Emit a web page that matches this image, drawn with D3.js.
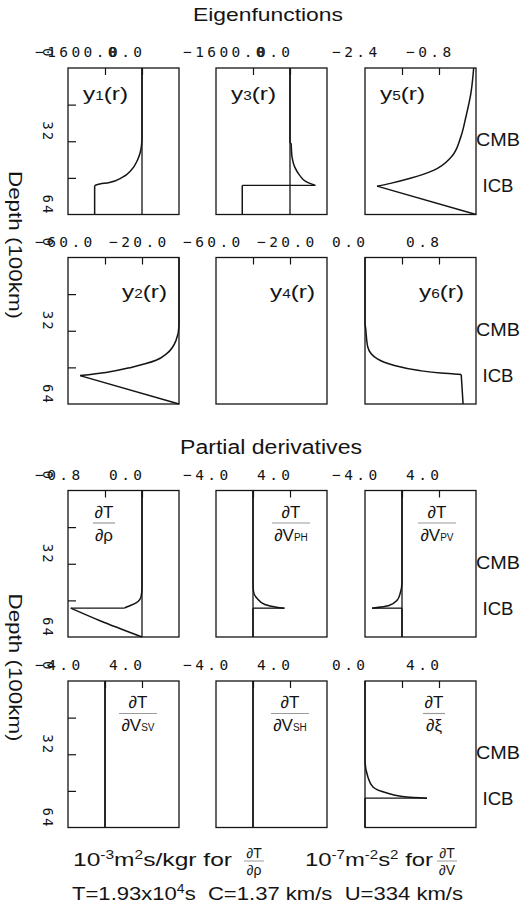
<!DOCTYPE html>
<html><head><meta charset="utf-8">
<script src="https://cdn.jsdelivr.net/npm/d3@7"></script>
<style>body{margin:0;background:#fff}svg{display:block}</style>
</head><body>
<svg id="c" width="524" height="918"></svg>
<script>
// ---------------- data ----------------
const depthDomain = [0, 64];
const depthTicks = [16, 32, 48];
const depthTickLabels = [0, 32, 64];
const boundaryNames = ["CMB", "ICB"];
const boundaryLabelDepths = [31.2, 51.3];

const eigenNames = ["1", "3", "5", "2", "4", "6"];
const eigenDomains = [[-1600, 800], [-1600, 800], [-2.4, 0], [-60, 0], [-60, 0], [0, 1.2]];
const partialSubs = ["ρ", "VPH", "VPV", "VSV", "VSH", "ξ"];
const partialDomains = [[-0.8, 0.4], [-4, 8], [-4, 8], [-4, 8], [-4, 8], [0, 6]];

// eigenfunctions (depth in 100 km, value)
const y1Depth = [0, 30, 34, 37, 40.3, 44.7, 47.8, 50.0, 50.9, 51.4, 51.4, 64];
const y1Value = [0, 0, -12, -40, -100, -235, -427, -704, -960, -1024, -1024, -1024];
const y3Depth = [0, 32.9, 32.9, 36, 39, 43.4, 46.9, 49.5, 51.3, 51.3, 64];
const y3Value = [0, 0, 25, 32, 45, 105, 210, 337, 547, -1032, -1032];
const y5Depth = [0, 11, 21.5, 30.2, 39, 44.7, 48.2, 50.4, 51.6, 51.6, 64];
const y5Value = [-0.05, -0.11, -0.22, -0.33, -0.54, -0.92, -1.42, -1.85, -2.14, -2.14, 0];
const y2Depth = [0, 29.6, 36.2, 41.9, 44.9, 47.9, 50.2, 51.6, 51.6, 64];
const y2Value = [0, 0, -1.6, -6.5, -12.4, -25.4, -39.5, -53.5, -53.5, 0];
const y4Depth = [];
const y4Value = [];
const y6Depth = [0, 28.9, 30.3, 39.1, 44.2, 47.1, 49.3, 50.5, 51.1, 51.1, 64];
const y6Value = [0, 0, 0.005, 0.03, 0.13, 0.31, 0.57, 0.82, 1.04, 1.04, 1.06];

// partial derivatives
const dRhoDepth = [0, 31.6, 42, 46.4, 49.1, 50.8, 51.4, 51.4, 56.8, 64];
const dRhoValue = [0, 0, 0, -0.01, -0.064, -0.16, -0.19, -0.77, -0.46, 0];
const dVphDepth = [0, 40, 44, 47.1, 49.8, 51, 51.4, 51.4, 64];
const dVphValue = [0, 0, 0.05, 0.43, 1.28, 2.55, 3.4, 0, 0];
const dVpvDepth = [0, 40, 45, 48, 50.2, 51.4, 51.4, 64];
const dVpvValue = [0, 0, -0.2, -0.54, -1.4, -3.24, 0, 0];
const dVsvDepth = [0, 64];
const dVsvValue = [0, 0];
const dVshDepth = [0, 64];
const dVshValue = [0, 0];
const dXiDepth = [0, 34.7, 42, 46.3, 48.9, 50.7, 51.2, 51.2, 64];
const dXiValue = [0, 0, 0.16, 0.43, 1.19, 2.27, 3.35, 0, 0];

const eigenSeries = [[y1Depth, y1Value], [y3Depth, y3Value], [y5Depth, y5Value],
                     [y2Depth, y2Value], [y4Depth, y4Value], [y6Depth, y6Value]];
const partialSeries = [[dRhoDepth, dRhoValue], [dVphDepth, dVphValue], [dVpvDepth, dVpvValue],
                       [dVsvDepth, dVsvValue], [dVshDepth, dVshValue], [dXiDepth, dXiValue]];

// ---------------- layout ----------------
const svg = d3.select("#c");
const colLeft = [68, 216, 365];
const panelW = 111;
const rowTop = [68, 257.5, 490.5, 681];
const panelH = 146.5;
const SANS = "'Liberation Sans', Arial, Helvetica, sans-serif";
const MONO = "'DejaVu Sans Mono', 'Liberation Mono', monospace";
const INK = "#141414";
const fmt = d3.format(".1f");

function splitRuns(depth, value) {
  const out = [];
  if (!depth.length) return out;
  let cur = [[depth[0], value[0]]];
  for (let i = 1; i < depth.length; i++) {
    if (depth[i] <= depth[i - 1]) { out.push(cur); cur = [[depth[i], value[i]]]; }
    else cur.push([depth[i], value[i]]);
  }
  out.push(cur);
  return out;
}

function drawPanel(row, col, domain, series) {
  const left = colLeft[col], top = rowTop[row];
  const x = d3.scaleLinear().domain(domain).range([left, left + panelW]);
  const y = d3.scaleLinear().domain(depthDomain).range([top, top + panelH]);
  const g = svg.append("g");
  const step = (domain[1] - domain[0]) / 3;
  const xt = [domain[0] + step, domain[0] + 2 * step];

  // top ticks (inward)
  const ax = g.append("g").attr("transform", `translate(0,${top})`)
    .call(d3.axisTop(x).tickValues(xt).tickSize(-7).tickFormat(""));
  ax.select(".domain").remove();
  ax.selectAll("line").attr("stroke", INK).attr("stroke-width", 1.2);

  // left depth ticks on first column
  if (col === 0) {
    const ay = g.append("g").attr("transform", `translate(${left},0)`)
      .call(d3.axisLeft(y).tickValues(depthTicks).tickSize(-8).tickFormat(""));
    ay.select(".domain").remove();
    ay.selectAll("line").attr("stroke", INK).attr("stroke-width", 1.2);
    depthTickLabels.forEach(d => {
      g.append("text").attr("transform", `translate(43,${y(d) - 20}) rotate(90)`)
        .attr("font-family", MONO).attr("font-size", 14).attr("letter-spacing", 2)
        .attr("fill", INK).text(d);
    });
  }

  // x tick labels: left edge value and second tick value
  [domain[0], xt[1]].forEach(v => {
    g.append("text").attr("x", x(v) - 33).attr("y", top - 11)
      .attr("font-family", MONO).attr("font-size", 14.5).attr("letter-spacing", 3.4)
      .attr("fill", INK).text(fmt(v));
  });

  // zero line
  if (domain[0] < 0 && domain[1] > 0) {
    g.append("line").attr("x1", x(0)).attr("x2", x(0)).attr("y1", top).attr("y2", top + panelH)
      .attr("stroke", INK).attr("stroke-width", 1.3);
  }

  // series
  const runs = splitRuns(series[0], series[1]);
  const line = d3.line().x(p => x(p[1])).y(p => y(p[0])).curve(d3.curveMonotoneY);
  runs.forEach((r, i) => {
    if (r.length > 1) {
      g.append("path").attr("d", line(r)).attr("fill", "none")
        .attr("stroke", INK).attr("stroke-width", 1.5).attr("stroke-linejoin", "round");
    }
    if (i > 0) {
      const a = runs[i - 1][runs[i - 1].length - 1], b = r[0];
      g.append("line").attr("x1", x(a[1])).attr("y1", y(a[0])).attr("x2", x(b[1])).attr("y2", y(b[0]))
        .attr("stroke", INK).attr("stroke-width", 1.3);
    }
  });

  // frame
  g.append("rect").attr("x", left).attr("y", top).attr("width", panelW).attr("height", panelH)
    .attr("fill", "none").attr("stroke", INK).attr("stroke-width", 1.3);

  // boundary labels at right of last column
  if (col === 2) {
    boundaryNames.forEach((n, i) => {
      g.append("text").attr("x", 498).attr("y", y(boundaryLabelDepths[i]) + 7)
        .attr("text-anchor", "middle").attr("font-family", SANS).attr("font-size", 19)
        .attr("textLength", n === "CMB" ? 44 : 31).attr("lengthAdjust", "spacingAndGlyphs")
        .attr("fill", INK).text(n);
    });
  }
  return { x, y, left, top };
}

// eigenfunction panels
eigenNames.forEach((nm, i) => {
  const row = Math.floor(i / 3), col = i % 3;
  const p = drawPanel(row, col, eigenDomains[i], eigenSeries[i]);
  const t = svg.append("text").attr("font-family", SANS).attr("font-size", 19).attr("fill", INK)
    .attr("lengthAdjust", "spacingAndGlyphs").attr("textLength", 45);
  if (row === 0) t.attr("x", p.left + 15).attr("y", p.top + 32);
  else t.attr("x", p.left + panelW - 57).attr("y", p.top + 40);
  t.append("tspan").text("y");
  t.append("tspan").attr("font-size", 12).text(nm);
  t.append("tspan").text("(r)");
});

// partial derivative panels
const fracCenter = [36, 75, 72, 70, 74, 69];
partialSubs.forEach((s, i) => {
  const row = 2 + Math.floor(i / 3), col = i % 3;
  const p = drawPanel(row, col, partialDomains[i], partialSeries[i]);
  const cx = p.left + fracCenter[i];
  const wide = s.length > 1;
  svg.append("text").attr("x", cx).attr("y", p.top + 27).attr("text-anchor", "middle")
    .attr("font-family", SANS).attr("font-size", 17).attr("fill", INK).text("∂T");
  svg.append("line").attr("x1", cx - (wide ? 19 : 11)).attr("x2", cx + (wide ? 19 : 11))
    .attr("y1", p.top + 32.5).attr("y2", p.top + 32.5).attr("stroke", "#9a9a9a").attr("stroke-width", 1.2);
  const d = svg.append("text").attr("x", cx).attr("y", p.top + 50).attr("text-anchor", "middle")
    .attr("font-family", SANS).attr("font-size", 17).attr("fill", INK);
  if (wide) {
    d.append("tspan").text("∂V");
    d.append("tspan").attr("font-size", 10).text(s.slice(1));
  } else {
    d.append("tspan").text("∂" + s);
  }
});

// titles
svg.append("text").attr("x", 268).attr("y", 21).attr("text-anchor", "middle")
  .attr("font-family", SANS).attr("font-size", 19).attr("textLength", 150)
  .attr("lengthAdjust", "spacingAndGlyphs").attr("fill", INK).text("Eigenfunctions");
svg.append("text").attr("x", 271).attr("y", 454).attr("text-anchor", "middle")
  .attr("font-family", SANS).attr("font-size", 20).attr("textLength", 182)
  .attr("lengthAdjust", "spacingAndGlyphs").attr("fill", INK).text("Partial derivatives");

// depth axis titles
[0, 2].forEach(r => {
  svg.append("text").attr("transform", `translate(9,${rowTop[r] + 103}) rotate(90)`)
    .attr("font-family", SANS).attr("font-size", 19).attr("textLength", 148)
    .attr("lengthAdjust", "spacingAndGlyphs").attr("fill", INK).text("Depth (100km)");
});

// bottom units
function unitText(x, y, parts, len) {
  const t = svg.append("text").attr("x", x).attr("y", y).attr("font-family", SANS)
    .attr("font-size", 19).attr("fill", INK).attr("textLength", len).attr("lengthAdjust", "spacingAndGlyphs");
  parts.forEach(p => {
    const s = t.append("tspan").text(p[0]);
    if (p[1]) s.attr("font-size", 12).attr("baseline-shift", "super");
  });
}
function smallFrac(cx, yb, den) {
  svg.append("text").attr("x", cx).attr("y", yb - 8).attr("text-anchor", "middle")
    .attr("font-family", SANS).attr("font-size", 14).attr("fill", INK).text("∂T");
  svg.append("line").attr("x1", cx - 10).attr("x2", cx + 10).attr("y1", yb - 5).attr("y2", yb - 5)
    .attr("stroke", "#9a9a9a").attr("stroke-width", 1);
  svg.append("text").attr("x", cx).attr("y", yb + 9).attr("text-anchor", "middle")
    .attr("font-family", SANS).attr("font-size", 14).attr("fill", INK).text(den);
}
const NB = "\u00a0";
unitText(73, 866, [["10"], ["-3", 1], ["m"], ["2", 1], ["s/kgr for"]], 159);
smallFrac(254, 866, "∂ρ");
unitText(305, 866, [["10"], ["-7", 1], ["m"], ["-2", 1], ["s"], ["2", 1], [" for"]], 128);
smallFrac(447, 866, "∂V");
unitText(72, 900, [["T=1.93x10"], ["4", 1], ["s" + NB + NB + "C=1.37 km/s" + NB + NB + "U=334 km/s"]], 391);
</script>
</body></html>
